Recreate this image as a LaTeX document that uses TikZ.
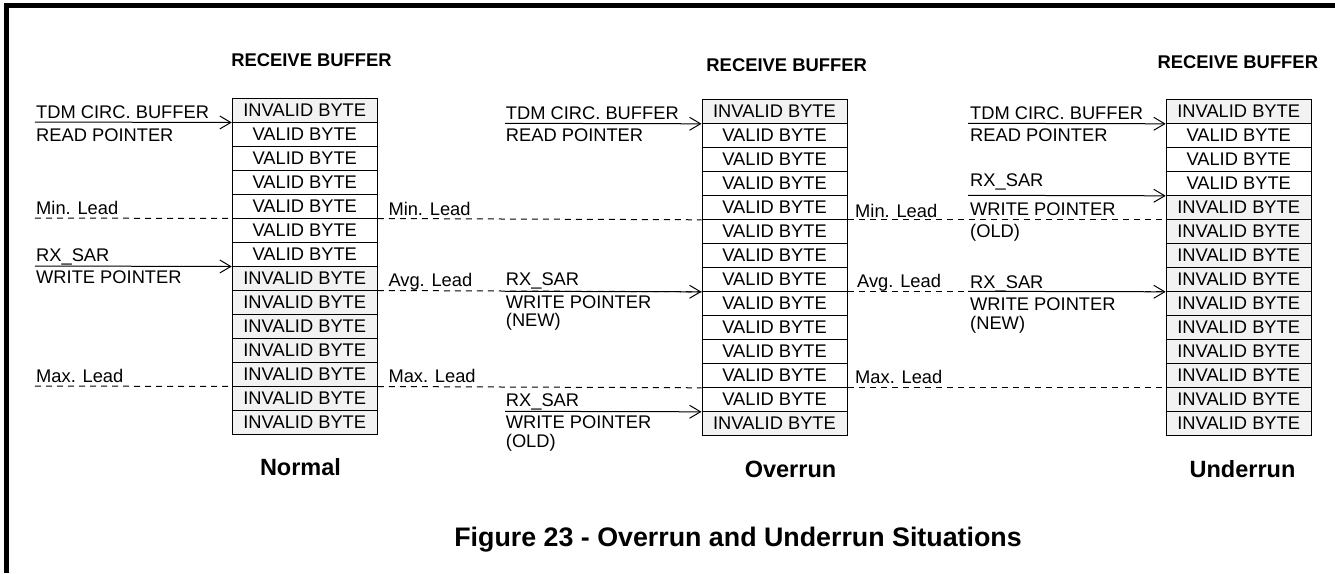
\documentclass[tikz,border=0pt]{standalone}
\usepackage{fontspec}
\setmainfont{Liberation Sans}
\usetikzlibrary{arrows.meta}
\tikzset{
  cell/.style={draw, line width=1pt, minimum width=145pt, minimum height=24pt, inner sep=0pt, font=\fontsize{18.3}{20}\selectfont},
  cellI/.style={cell, fill=black!5, node contents={INVALID BYTE}},
  cellV/.style={cell, fill=white, node contents={VALID BYTE}},
  lbl/.style={anchor=base west, inner sep=0pt, font=\fontsize{18.3}{20}\selectfont},
  ttl/.style={inner sep=0pt, font=\bfseries\fontsize{18.4}{20}\selectfont},
  sub/.style={inner sep=0pt, font=\bfseries\fontsize{23.5}{26}\selectfont},
  capt/.style={inner sep=0pt, font=\bfseries\fontsize{26.8}{30}\selectfont},
  lead/.style={dash pattern=on 6pt off 5pt, line width=1pt},
  ptr/.style={line width=1pt, -{Straight Barb[length=11pt,width=13pt,line width=1pt]}},
}
\begin{document}
\begin{tikzpicture}[x=1pt,y=-1pt]
\useasboundingbox (0,0) rectangle (1335,573);
\fill[white] (0,0) rectangle (1335,573);
% frame
\draw[line width=5pt] (6,573) -- (6,5.5) -- (1335,5.5);

% buffers
\foreach \t [count=\i] in {I,V,V,V,V,V,V,I,I,I,I,I,I,I}
  \node (n\i) at (304.75,{110+24*(\i-1)}) [cell\t];
\foreach \t [count=\i] in {I,V,V,V,V,V,V,V,V,V,V,V,V,I}
  \node (o\i) at (774.5,{111.3+24*(\i-1)}) [cell\t];
\foreach \t [count=\i] in {I,V,V,V,I,I,I,I,I,I,I,I,I,I}
  \node (u\i) at (1238.7,{111.3+24*(\i-1)}) [cell\t];

% titles
\node[ttl] (t1) at (311.5,60.5) {RECEIVE BUFFER};
\node[ttl] (t2) at (786.7,65) {RECEIVE BUFFER};
\node[ttl] (t3) at (1237.8,61.7) {RECEIVE BUFFER};
\node[sub] (s1) at (300.5,467) {Normal};
\node[sub] (s2) at (790.5,469) {Overrun};
\node[sub] (s3) at (1242.5,469) {Underrun};
\node[capt] (cap) at (738,540) {Figure 23 - Overrun and Underrun Situations};

% Normal labels
\node[lbl] (nl1) at (36,118.3) {TDM CIRC. BUFFER};
\node[lbl] (nl2) at (36,141.7) {READ POINTER};
\node[lbl] (nl3) at (36,214.5) {Min. Lead};
\node[lbl] (nl4) at (36,261.7) {RX\_SAR};
\node[lbl] (nl5) at (36,283.3) {WRITE POINTER};
\node[lbl] (nl6) at (36,382) {Max. Lead};
\coordinate (nA) at (35,122);
\coordinate (nB) at (35,218);
\coordinate (nC) at (35,266);
\coordinate (nD) at (35,386);
\draw[ptr] (nA) -- (n1.south west);
\draw[ptr] (nC) -- (n7.south west);
\draw[lead] (nB) -- (n5.south west);
\draw[lead] (nD) -- (n12.south west);

% middle leads
\node[lbl] (ml1) at (388.3,215) {Min. Lead};
\node[lbl] (ml2) at (388.3,286.5) {Avg. Lead};
\node[lbl] (ml3) at (388.3,382.5) {Max. Lead};
\draw[lead] (n5.south east) -- (o5.south west);
\draw[lead] (n8.south east) -- (o8.south west);
\draw[lead] (n12.south east) -- (o12.south west);

% Overrun labels
\node[lbl] (ol1) at (505.7,119) {TDM CIRC. BUFFER};
\node[lbl] (ol2) at (505.7,141.7) {READ POINTER};
\node[lbl] (ol3) at (505.7,285.5) {RX\_SAR};
\node[lbl] (ol4) at (505.7,308) {WRITE POINTER};
\node[lbl] (ol5) at (505.7,326.5) {(NEW)};
\node[lbl] (ol6) at (505.7,406) {RX\_SAR};
\node[lbl] (ol7) at (505.7,428) {WRITE POINTER};
\node[lbl] (ol8) at (505.7,447) {(OLD)};
\coordinate (oA) at (505,123.3);
\coordinate (oB) at (505,291.3);
\coordinate (oC) at (505,411.3);
\draw[ptr] (oA) -- (o1.south west);
\draw[ptr] (oB) -- (o8.south west);
\draw[ptr] (oC) -- (o13.south west);

% right leads
\node[lbl] (rl1) at (855,217.5) {Min. Lead};
\node[lbl] (rl2) at (857,287) {Avg. Lead};
\node[lbl] (rl3) at (855,383) {Max. Lead};
\draw[lead] (o5.south east) -- (u5.south west);
\draw[lead] (o8.south east) -- (u8.south west);
\draw[lead] (o12.south east) -- (u12.south west);

% Underrun labels
\node[lbl] (ul1) at (970,119) {TDM CIRC. BUFFER};
\node[lbl] (ul2) at (970,141.7) {READ POINTER};
\node[lbl] (ul3) at (970,186.7) {RX\_SAR};
\node[lbl] (ul4) at (970,215) {WRITE POINTER};
\node[lbl] (ul5) at (970,237) {(OLD)};
\node[lbl] (ul6) at (970,288) {RX\_SAR};
\node[lbl] (ul7) at (970,310) {WRITE POINTER};
\node[lbl] (ul8) at (970,329.5) {(NEW)};
\coordinate (uA) at (968,123.3);
\coordinate (uB) at (968,195.3);
\coordinate (uC) at (968,291.3);
\draw[ptr] (uA) -- (u1.south west);
\draw[ptr] (uB) -- (u4.south west);
\draw[ptr] (uC) -- (u8.south west);
\end{tikzpicture}
\end{document}
